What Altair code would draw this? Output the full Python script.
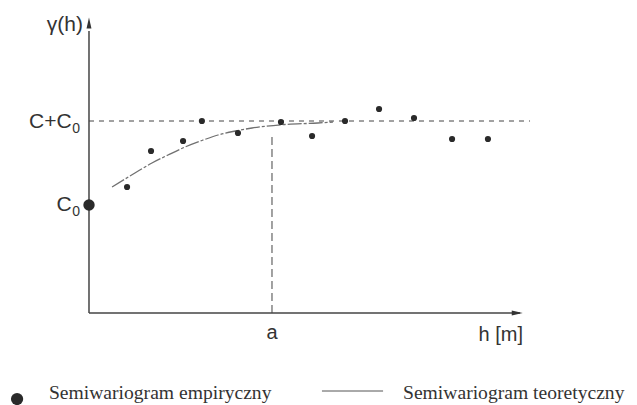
import altair as alt
import pandas as pd

# empirical semivariogram (h in units where a = 10)
emp_h = [2.08, 3.39, 5.14, 6.17, 8.14, 10.49, 12.19, 13.99, 15.85, 17.76, 19.84, 21.80]
emp_g = [1.26, 1.62, 1.72, 1.92, 1.80, 1.91, 1.77, 1.92, 2.04, 1.95, 1.74, 1.74]

# theoretical semivariogram
teo_h = [1.26, 2.51, 3.44, 4.32, 5.25, 6.17, 7.05, 8.00, 8.91, 10.71, 12.51, 13.33]
teo_g = [1.26, 1.40, 1.50, 1.58, 1.66, 1.725, 1.78, 1.82, 1.85, 1.885, 1.90, 1.91]

nugget = 1.08   # C0
sill = 1.92     # C + C0
a_range = 10.0  # a

W, H = 621, 397
XD = [-4.426, -4.426 + W / 18.3]
YD = [-0.92, 3.05]

xs = alt.Scale(domain=XD, nice=False, zero=False)
ys = alt.Scale(domain=YD, nice=False, zero=False)
SANS = "Liberation Sans Narrow, Liberation Sans, DejaVu Sans, sans-serif"
SERIF = "Liberation Serif, DejaVu Serif, serif"
INK = "#2a2a2a"

def X(f="x"):
    return alt.X(f"{f}:Q", scale=xs, axis=None)

def Y(f="y"):
    return alt.Y(f"{f}:Q", scale=ys, axis=None)

emp = pd.DataFrame({"x": emp_h, "y": emp_g})
teo = pd.DataFrame({"x": teo_h, "y": teo_g})

segs = pd.DataFrame({
    "x": [0, 0, 0, a_range],
    "x2": [0, 23.55, 24.1, a_range],
    "y": [0, 0, sill, 0],
    "y2": [2.82, 0, sill, 1.79],
    "kind": ["axis", "axis", "sill", "range"],
})

axes = alt.Chart(segs[segs.kind == "axis"]).mark_rule(color="#444", strokeWidth=1.5).encode(
    x=X(), x2="x2:Q", y=Y(), y2="y2:Q")
sill_line = alt.Chart(segs[segs.kind == "sill"]).mark_rule(color="#444", strokeWidth=1, strokeDash=[5, 5]).encode(
    x=X(), x2="x2:Q", y=Y(), y2="y2:Q")
range_line = alt.Chart(segs[segs.kind == "range"]).mark_rule(color="#444", strokeWidth=1, strokeDash=[8, 4]).encode(
    x=X(), x2="x2:Q", y=Y(), y2="y2:Q")

arrows = pd.DataFrame({"x": [0, 23.4], "y": [2.90, 0], "ang": [0, 90]})
arrow_mark = alt.Chart(arrows).mark_point(
    shape="M0,-1L0.45,1L-0.45,1Z", filled=True, color="#333", size=120, opacity=1
).encode(x=X(), y=Y(), angle=alt.Angle("ang:Q", scale=None))

curve = alt.Chart(teo).mark_line(color="#707070", strokeWidth=1.3, strokeDash=[14, 2, 3, 2],
                                 interpolate="monotone").encode(x=X(), y=Y())

pts = alt.Chart(emp).mark_circle(color=INK, size=38, opacity=1).encode(x=X(), y=Y())
c0 = alt.Chart(pd.DataFrame({"x": [0], "y": [nugget]})).mark_circle(color=INK, size=130, opacity=1).encode(
    x=X(), y=Y())

labels = pd.DataFrame({
    "x": [-0.33, -0.95, -0.95, a_range, 22.5],
    "y": [2.88, 1.91, 1.08, -0.20, -0.22],
    "t": ["γ(h)", "C+C", "C", "a", "h [m]"],
    "al": ["right", "right", "right", "center", "center"],
})
lab_r = alt.Chart(labels[labels.al == "right"]).mark_text(
    font=SANS, fontSize=21, color="#333", align="right", baseline="middle"
).encode(x=X(), y=Y(), text="t:N")
lab_c = alt.Chart(labels[labels.al == "center"]).mark_text(
    font=SANS, fontSize=20, color="#333", align="center", baseline="middle"
).encode(x=X(), y=Y(), text="t:N")
subs = pd.DataFrame({"x": [-0.92, -0.92], "y": [1.84, 1.01], "t": ["0", "0"]})
sub_t = alt.Chart(subs).mark_text(
    font=SANS, fontSize=14, color="#333", align="left", baseline="middle"
).encode(x=X(), y=Y(), text="t:N")

leg_txt = pd.DataFrame({"x": [-2.19, 17.16], "y": [-0.80, -0.80],
                        "t": ["Semiwariogram empiryczny", "Semiwariogram teoretyczny"]})
leg_text = alt.Chart(leg_txt).mark_text(
    font=SERIF, fontSize=19.6, color="#333", align="left", baseline="middle"
).encode(x=X(), y=Y(), text="t:N")
leg_dot = alt.Chart(pd.DataFrame({"x": [-3.93], "y": [-0.86]})).mark_circle(
    color=INK, size=150, opacity=1).encode(x=X(), y=Y())
leg_line = alt.Chart(pd.DataFrame({"x": [12.73], "x2": [16.07], "y": [-0.78]})).mark_rule(
    color="#555", strokeWidth=1).encode(x=X(), x2="x2:Q", y=Y())

chart = alt.layer(
    axes, sill_line, range_line, curve, arrow_mark, pts, c0,
    lab_r, lab_c, sub_t, leg_text, leg_dot, leg_line
).properties(
    width=W, height=H, padding=0, autosize=alt.AutoSizeParams(type="none")
).configure_view(stroke=None)

chart.save("out.html", embed_options={"renderer": "svg", "actions": False})
